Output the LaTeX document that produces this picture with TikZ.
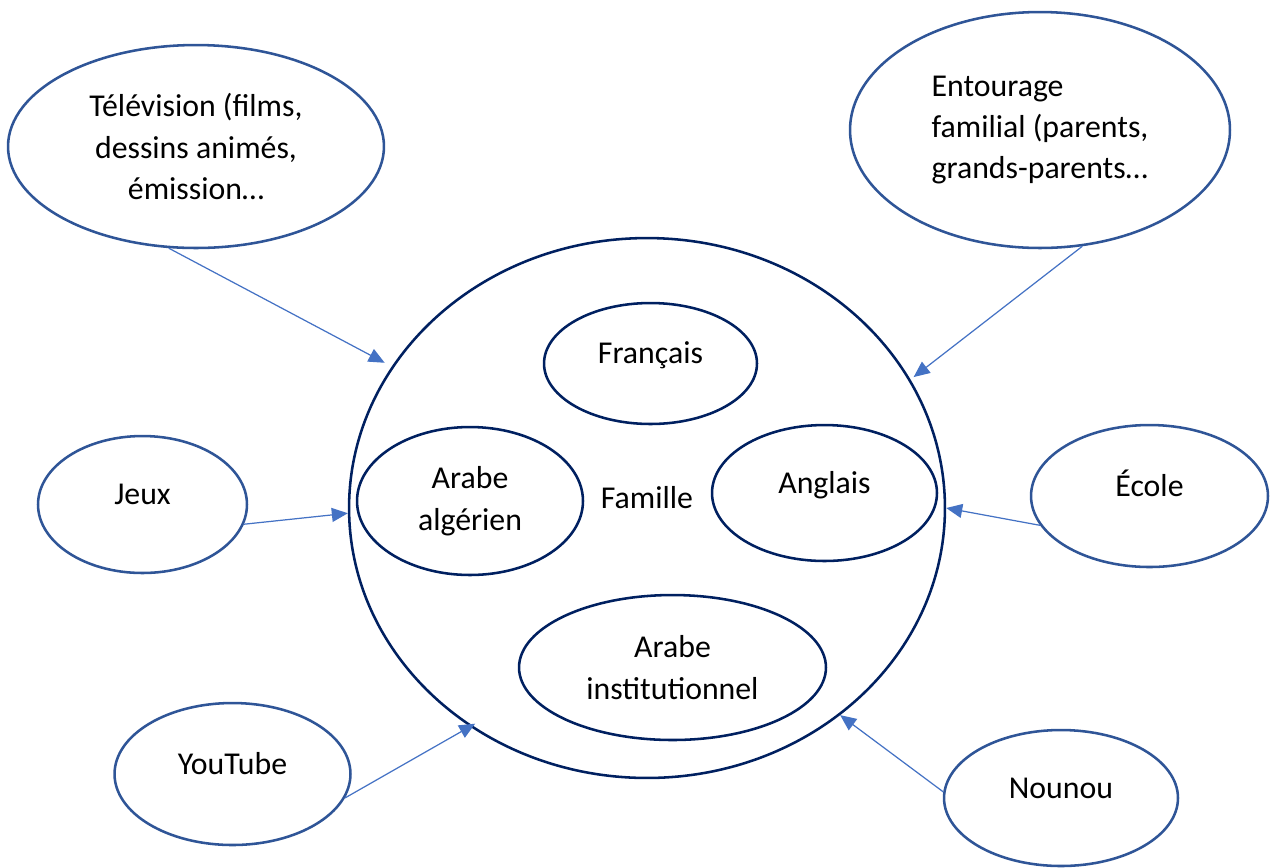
\documentclass[tikz,border=0pt]{standalone}
\usepackage{fontspec}
\setmainfont{Carlito}
\usetikzlibrary{shapes.geometric,arrows.meta}
\definecolor{ringblue}{HTML}{2F5597}
\definecolor{navy}{HTML}{002060}
\definecolor{arrowblue}{HTML}{4472C4}

\begin{document}
\begin{tikzpicture}[x=0.02cm,y=-0.02cm,font=\fontsize{18.1}{23.6}\selectfont]
        \tikzstyle{bubble} = [ellipse, draw=ringblue, line width=1.45pt, inner sep=0pt, align=center]
        \tikzstyle{lang} = [ellipse, draw=navy, line width=1.45pt, inner sep=0pt, align=center]
        \tikzstyle{oneline} = [text height=12pt, text depth=12pt]
        \tikzstyle{arrow} = [arrowblue, line width=0.7pt, -{Triangle[length=0.32cm,width=0.28cm]}]

                \useasboundingbox (0,0) rectangle (1274,867);

                % the family and its languages
                \node (famille) [lang, oneline, minimum width=11.92cm, minimum height=10.8cm] at (647,508) {Famille};
                \node (fr) [lang, oneline, minimum width=4.26cm, minimum height=2.42cm] at (650.5,363.5) {Français};
                \node (ar) [lang, minimum width=4.52cm, minimum height=2.96cm] at (470,501) {Arabe\\algérien};
                \node (en) [lang, oneline, minimum width=4.5cm, minimum height=2.72cm] at (824.5,493) {Anglais};
                \node (ai) [lang, minimum width=6.14cm, minimum height=2.9cm] at (672.5,667.5) {Arabe\\institutionnel};

                % sources around
                \node (tv) [bubble, minimum width=7.52cm, minimum height=4.06cm] at (196,146.5) {Télévision (films,\\dessins animés,\\émission…};
                \node (ent) [bubble, align=left, minimum width=7.6cm, minimum height=4.72cm] at (1040,130) {Entourage\\familial (parents,\\grands-parents…};
                \node (jeux) [bubble, oneline, minimum width=4.18cm, minimum height=2.74cm] at (142.5,504.5) {Jeux};
                \node (ecole) [bubble, oneline, minimum width=4.74cm, minimum height=2.84cm] at (1149.5,496) {École};
                \node (yt) [bubble, oneline, minimum width=4.72cm, minimum height=2.84cm] at (232.5,774) {YouTube};
                \node (nounou) [bubble, oneline, minimum width=4.68cm, minimum height=2.72cm] at (1061,798) {Nounou};

                \draw[arrow, shorten >=0.16cm] (tv.255) -- (famille.151);
                \draw[arrow, shorten >=0.08cm] (ent.290) -- (famille.26);
                \draw[arrow] (jeux.349) -- (famille.181);
                \draw[arrow] (ecole.195) -- (famille.0);
                \draw[arrow, shorten >=-0.12cm] (yt.348) -- (famille.231);
                \draw[arrow] (nounou.177) -- (famille.313);

    \end{tikzpicture}
\end{document}
